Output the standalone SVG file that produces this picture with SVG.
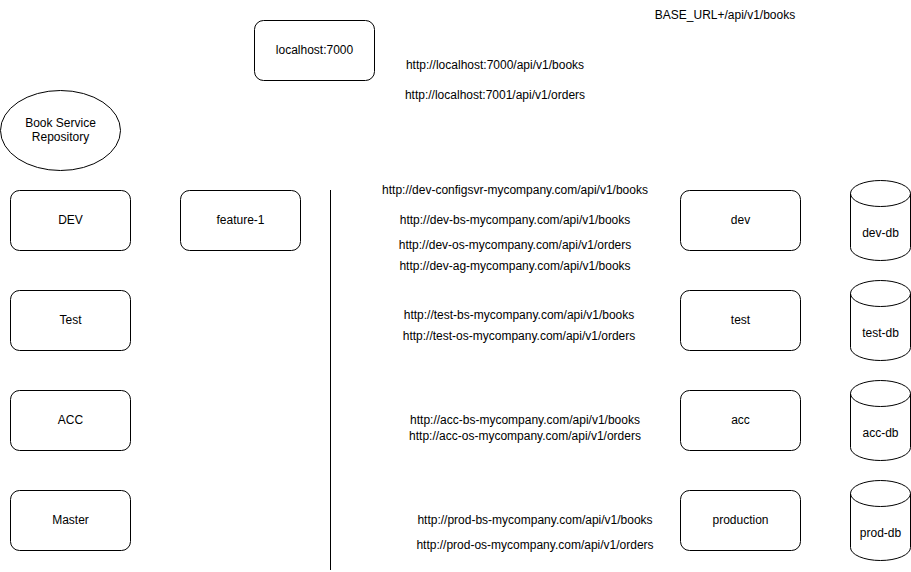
<svg xmlns="http://www.w3.org/2000/svg" width="911" height="572" viewBox="0 0 911 572">
<style>
.box{fill:#fff;stroke:#000;stroke-width:1}
.db{fill:#fff;stroke:#000;stroke-width:1}
text{font-family:"Liberation Sans",Arial,Helvetica,sans-serif;font-size:12px;fill:#000;text-anchor:middle}
.ln{stroke:#000;stroke-width:1;fill:none}
</style>
<defs>
<g id="cyl">
<path class="db" d="M0,13 A30,13 0 0 1 60,13 L60,67 A30,13 0 0 1 0,67 Z"/>
<path class="ln" d="M0,13 A30,13 0 0 0 60,13"/>
</g>
</defs>
<rect width="911" height="572" fill="#fff"/>

<g id="connectors">
<line class="ln" x1="330.5" y1="190" x2="330.5" y2="570"/>
</g>

<g id="localhost"><rect class="box" x="254.5" y="20.5" width="120" height="60" rx="9"/><text x="314.5" y="54">localhost:7000</text></g>
<g id="repo"><ellipse class="box" cx="60.5" cy="130.5" rx="60" ry="40"/><text x="60.5" y="127">Book Service</text><text x="60.5" y="141">Repository</text></g>

<g id="DEV"><rect class="box" x="10.5" y="190.5" width="120" height="60" rx="9"/><text x="70.5" y="224">DEV</text></g>
<g id="feature-1"><rect class="box" x="180.5" y="190.5" width="120" height="60" rx="9"/><text x="240.5" y="224">feature-1</text></g>
<g id="Test"><rect class="box" x="10.5" y="290.5" width="120" height="60" rx="9"/><text x="70.5" y="324">Test</text></g>
<g id="ACC"><rect class="box" x="10.5" y="390.5" width="120" height="60" rx="9"/><text x="70.5" y="424">ACC</text></g>
<g id="Master"><rect class="box" x="10.5" y="490.5" width="120" height="60" rx="9"/><text x="70.5" y="524">Master</text></g>

<g id="dev"><rect class="box" x="680.5" y="190.5" width="120" height="60" rx="9"/><text x="740.5" y="224">dev</text></g>
<g id="test"><rect class="box" x="680.5" y="290.5" width="120" height="60" rx="9"/><text x="740.5" y="324">test</text></g>
<g id="acc"><rect class="box" x="680.5" y="390.5" width="120" height="60" rx="9"/><text x="740.5" y="424">acc</text></g>
<g id="production"><rect class="box" x="680.5" y="490.5" width="120" height="60" rx="9"/><text x="740.5" y="524">production</text></g>

<g id="dev-db"><use href="#cyl" x="850.5" y="180.5"/><text x="880.5" y="237">dev-db</text></g>
<g id="test-db"><use href="#cyl" x="850.5" y="280.5"/><text x="880.5" y="337">test-db</text></g>
<g id="acc-db"><use href="#cyl" x="850.5" y="380.5"/><text x="880.5" y="437">acc-db</text></g>
<g id="prod-db"><use href="#cyl" x="850.5" y="480.5"/><text x="880.5" y="537">prod-db</text></g>

<g id="labels">
<text x="725" y="19">BASE_URL+/api/v1/books</text>
<text x="495" y="69">http://localhost:7000/api/v1/books</text>
<text x="495" y="99">http://localhost:7001/api/v1/orders</text>
<text x="515" y="194">http://dev-configsvr-mycompany.com/api/v1/books</text>
<text x="515" y="224">http://dev-bs-mycompany.com/api/v1/books</text>
<text x="515" y="249">http://dev-os-mycompany.com/api/v1/orders</text>
<text x="515" y="270">http://dev-ag-mycompany.com/api/v1/books</text>
<text x="519" y="319">http://test-bs-mycompany.com/api/v1/books</text>
<text x="519" y="340">http://test-os-mycompany.com/api/v1/orders</text>
<text x="525" y="424">http://acc-bs-mycompany.com/api/v1/books</text>
<text x="525" y="440">http://acc-os-mycompany.com/api/v1/orders</text>
<text x="535" y="524">http://prod-bs-mycompany.com/api/v1/books</text>
<text x="535" y="549">http://prod-os-mycompany.com/api/v1/orders</text>
</g>
</svg>
